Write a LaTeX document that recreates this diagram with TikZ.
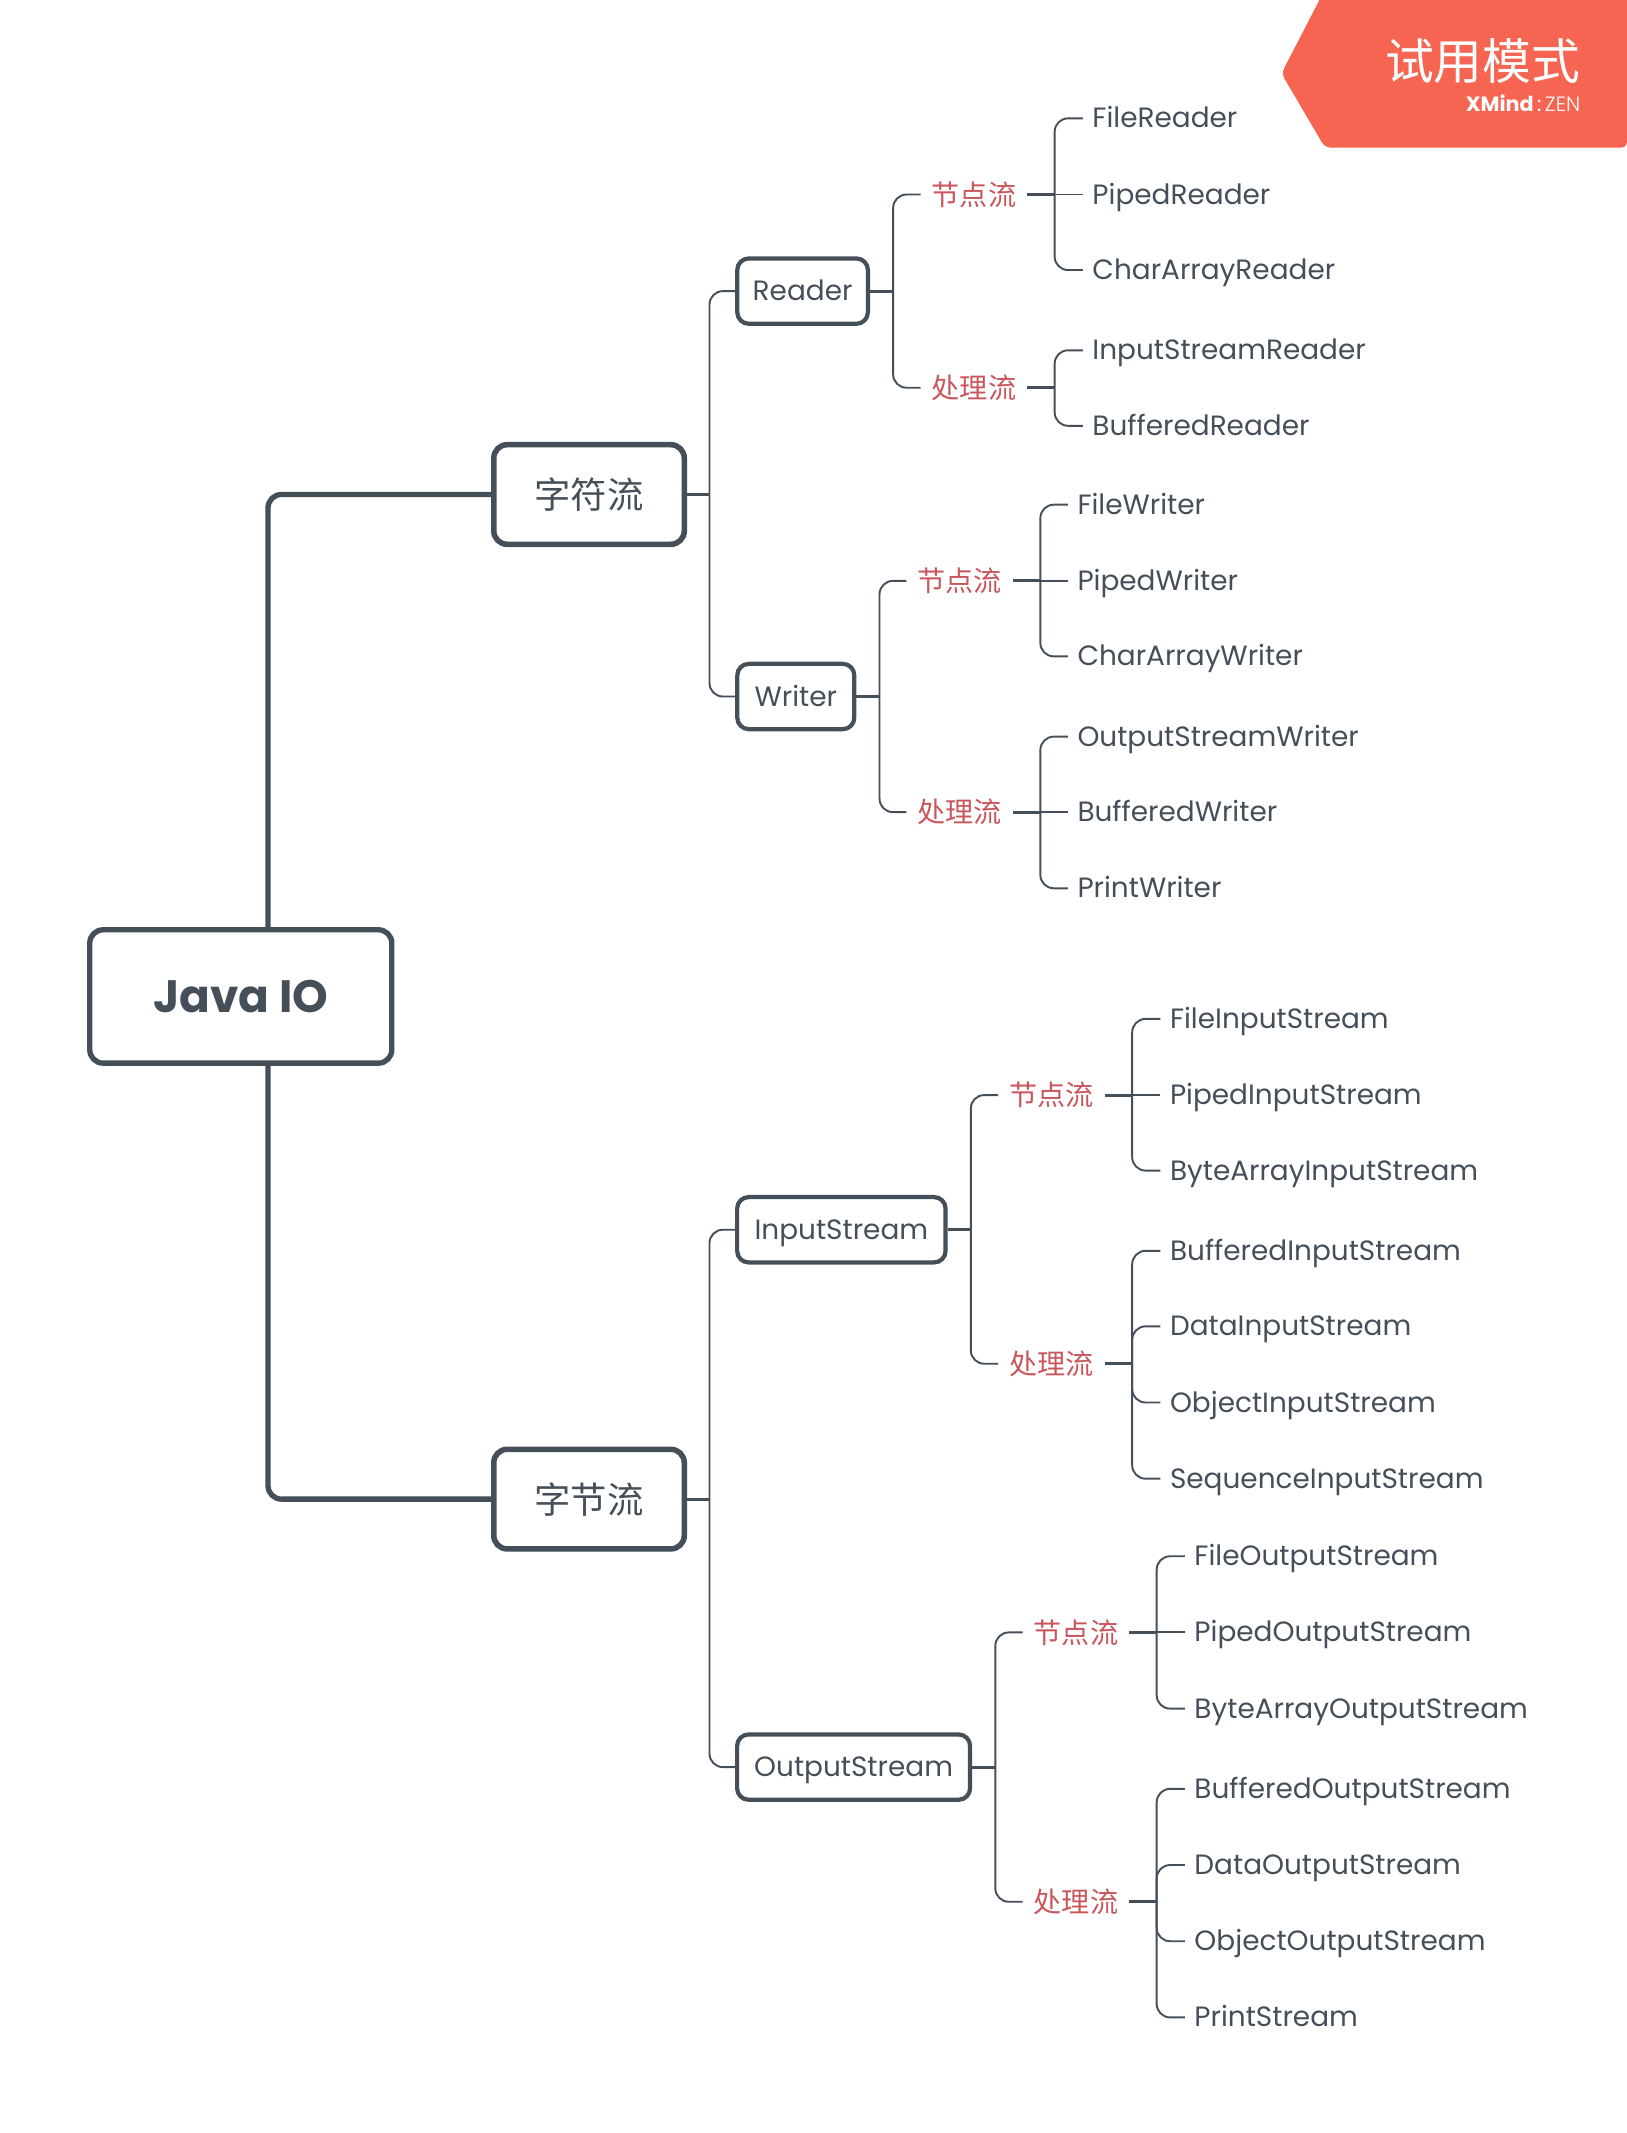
\documentclass[tikz,border=0pt]{standalone}
\usepackage{fontspec}
\setmainfont{Poppins}
\newfontfamily\cjkfont{Noto Sans CJK SC}
\newfontfamily\thinfont[UprightFont=* Light]{Poppins}
\usetikzlibrary{calc}
\definecolor{mapgrey}{HTML}{454F5A}
\definecolor{labelred}{HTML}{C9565B}
\definecolor{badgered}{HTML}{F56551}
\tikzset{
  rootbox/.style={draw=mapgrey,line width=2.8pt,rounded corners=7,text=mapgrey,minimum width=5.55cm,minimum height=2.45cm,font=\fontsize{23.7}{26}\selectfont\bfseries},
  mainbox/.style={draw=mapgrey,line width=2.9pt,rounded corners=7,text=mapgrey,minimum width=3.5cm,minimum height=1.83cm,font=\fontsize{19}{22}\selectfont\cjkfont},
  subbox/.style={draw=mapgrey,line width=2.2pt,rounded corners=6,text=mapgrey,minimum height=1.2cm,inner xsep=0cm,text height=10pt,text depth=0pt,font=\fontsize{14.6}{17}\selectfont},
  kindlabel/.style={text=labelred,inner xsep=0.2cm,font=\fontsize{14.7}{17}\selectfont\cjkfont},
  leaf/.style={anchor=west,text=mapgrey,inner xsep=0.17cm,text height=10pt,text depth=0pt,font=\fontsize{14.6}{17}\selectfont},
  trunk/.style={draw=mapgrey,line width=2.8pt,rounded corners=7},
  branch/.style={draw=mapgrey,line width=1pt,rounded corners=7},
  stub/.style={draw=mapgrey,line width=1.5pt}
}
\begin{document}
\begin{tikzpicture}[x=0.025cm,y=-0.025cm]
\useasboundingbox (0,0) rectangle (1196,1568);
% badge
\fill[badgered,rounded corners=3] (973,-6) -- (942,54) -- (974,108.5) -- (1196,108.5) -- (1196,-6) -- cycle;
\node[text=white,anchor=east,inner sep=0,font=\fontsize{25.5}{28}\selectfont\cjkfont] (trial) at (1162,45) {试用模式};
\node[text=white,anchor=east,inner sep=0,font=\fontsize{10.8}{12}\selectfont] (brand) at (1162,76) {\textbf{XMind}\,:\,{\thinfont ZEN}};
% first levels
\node[rootbox] (root) at (177,732.5) {Java IO};
\node[mainbox] (chars) at (433,363.5) {字符流};
\node[mainbox] (bytes) at (433,1102) {字节流};
\draw[trunk] ($(root.north)+(20,0)$) |- (chars.west);
\draw[trunk] ($(root.south)+(20,0)$) |- (bytes.west);
\node[subbox,minimum width=2.4cm] (reader) at (590,214) {Reader};
\node[subbox,minimum width=2.15cm] (writer) at (585,512) {Writer};
\node[subbox,minimum width=3.83cm] (instream) at (618.5,904) {InputStream};
\node[subbox,minimum width=4.28cm] (outstream) at (627.5,1299) {OutputStream};
\draw[stub] (chars.east) -- ++(16.5,0) coordinate (charsj);
\draw[stub] (bytes.east) -- ++(16.5,0) coordinate (bytesj);
\foreach \n in {reader,writer} \draw[branch] (charsj) |- (\n.west);
\foreach \n in {instream,outstream} \draw[branch] (bytesj) |- (\n.west);
% Reader
\node[kindlabel] (rnode) at (716,143) {节点流};
\node[kindlabel] (rproc) at (716,285) {处理流};
\node[leaf] (frd) at (796,87) {FileReader};
\node[leaf] (prd) at (796,143) {PipedReader};
\node[leaf] (crd) at (796,198.5) {CharArrayReader};
\node[leaf] (ird) at (796,257.5) {InputStreamReader};
\node[leaf] (brd) at (796,313) {BufferedReader};
\draw[stub] (reader.east) -- ++(17,0) coordinate (readerj);
\foreach \n in {rnode,rproc} \draw[branch] (readerj) |- (\n.west);
\draw[stub] (rnode.east) -- ++(20,0) coordinate (rnodej);
\draw[stub] (rproc.east) -- ++(20,0) coordinate (rprocj);
\foreach \n in {frd,crd} \draw[branch] (rnodej) |- (\n.west);
\draw[branch] (rnodej) -- (prd.west);
\foreach \n in {ird,brd} \draw[branch] (rprocj) |- (\n.west);
% Writer
\node[kindlabel] (wnode) at (705.5,427) {节点流};
\node[kindlabel] (wproc) at (705.5,597) {处理流};
\node[leaf] (fwr) at (785,371) {FileWriter};
\node[leaf] (pwr) at (785,427) {PipedWriter};
\node[leaf] (cwr) at (785,482.5) {CharArrayWriter};
\node[leaf] (owr) at (785,541.5) {OutputStreamWriter};
\node[leaf] (bwr) at (785,597) {BufferedWriter};
\node[leaf] (twr) at (785,653) {PrintWriter};
\draw[stub] (writer.east) -- ++(17,0) coordinate (writerj);
\foreach \n in {wnode,wproc} \draw[branch] (writerj) |- (\n.west);
\draw[stub] (wnode.east) -- ++(20,0) coordinate (wnodej);
\draw[stub] (wproc.east) -- ++(20,0) coordinate (wprocj);
\foreach \n in {fwr,cwr} \draw[branch] (wnodej) |- (\n.west);
\draw[branch] (wnodej) -- (pwr.west);
\foreach \n in {owr,twr} \draw[branch] (wprocj) |- (\n.west);
\draw[branch] (wprocj) -- (bwr.west);
% InputStream
\node[kindlabel] (inode) at (773,805) {节点流};
\node[kindlabel] (iproc) at (773,1002.5) {处理流};
\node[leaf] (fis) at (853,749) {FileInputStream};
\node[leaf] (pis) at (853,805) {PipedInputStream};
\node[leaf] (bis) at (853,860.5) {ByteArrayInputStream};
\node[leaf] (uis) at (853,919.5) {BufferedInputStream};
\node[leaf] (dis) at (853,975) {DataInputStream};
\node[leaf] (ois) at (853,1031) {ObjectInputStream};
\node[leaf] (sis) at (853,1087) {SequenceInputStream};
\draw[stub] (instream.east) -- ++(17,0) coordinate (instreamj);
\foreach \n in {inode,iproc} \draw[branch] (instreamj) |- (\n.west);
\draw[stub] (inode.east) -- ++(20,0) coordinate (inodej);
\draw[stub] (iproc.east) -- ++(20,0) coordinate (iprocj);
\foreach \n in {fis,bis} \draw[branch] (inodej) |- (\n.west);
\draw[branch] (inodej) -- (pis.west);
\foreach \n in {uis,dis,ois,sis} \draw[branch] (iprocj) |- (\n.west);
% OutputStream
\node[kindlabel] (onode) at (791,1200) {节点流};
\node[kindlabel] (oproc) at (791,1398) {处理流};
\node[leaf] (fos) at (871,1144) {FileOutputStream};
\node[leaf] (pos) at (871,1200) {PipedOutputStream};
\node[leaf] (bos) at (871,1256) {ByteArrayOutputStream};
\node[leaf] (uos) at (871,1315) {BufferedOutputStream};
\node[leaf] (dos) at (871,1371) {DataOutputStream};
\node[leaf] (oos) at (871,1427) {ObjectOutputStream};
\node[leaf] (tos) at (871,1483) {PrintStream};
\draw[stub] (outstream.east) -- ++(17,0) coordinate (outstreamj);
\foreach \n in {onode,oproc} \draw[branch] (outstreamj) |- (\n.west);
\draw[stub] (onode.east) -- ++(20,0) coordinate (onodej);
\draw[stub] (oproc.east) -- ++(20,0) coordinate (oprocj);
\foreach \n in {fos,bos} \draw[branch] (onodej) |- (\n.west);
\draw[branch] (onodej) -- (pos.west);
\foreach \n in {uos,dos,oos,tos} \draw[branch] (oprocj) |- (\n.west);
\end{tikzpicture}
\end{document}
